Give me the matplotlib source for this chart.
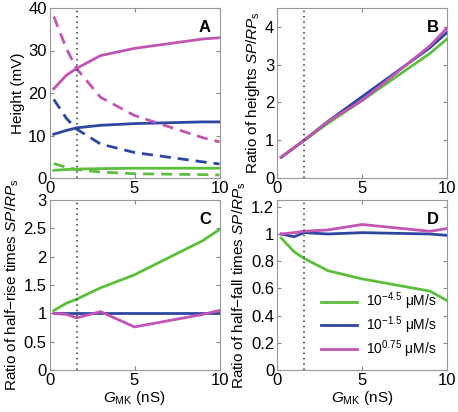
import matplotlib
matplotlib.use("Agg")
import matplotlib.pyplot as plt

# ── data ────────────────────────────────────────────────────────────────────
g_mk = [0.25, 1, 1.6, 3, 5, 9, 10]

# A: heights (mV), solid = SP, dashed = RP
a_green_sp = [1.8, 2.0, 2.1, 2.2, 2.3, 2.3, 2.3]
a_green_rp = [3.4, 2.5, 2.0, 1.4, 1.0, 0.8, 0.7]
a_blue_sp = [10.3, 11.2, 11.8, 12.4, 12.8, 13.2, 13.2]
a_blue_rp = [18.5, 14.0, 11.5, 8.0, 6.0, 3.8, 3.3]
a_mag_sp = [21.0, 24.2, 25.8, 28.8, 30.5, 32.7, 33.0]
a_mag_rp = [38.0, 30.4, 25.7, 19.0, 14.7, 9.5, 8.5]

# B: ratio of heights
b_green = [0.55, 0.8, 1.0, 1.45, 2.05, 3.3, 3.68]
b_blue = [0.55, 0.8, 1.0, 1.5, 2.15, 3.45, 3.85]
b_mag = [0.55, 0.8, 1.0, 1.5, 2.05, 3.5, 3.97]

# C: ratio of half-rise times
c_green = [1.05, 1.18, 1.25, 1.45, 1.68, 2.28, 2.48]
c_blue = [1.0, 1.0, 1.0, 1.0, 1.0, 1.0, 1.0]
c_mag = [1.0, 0.98, 0.92, 1.03, 0.76, 0.98, 1.05]

# D: ratio of half-fall times
d_green = [0.97, 0.87, 0.82, 0.73, 0.67, 0.58, 0.51]
d_blue = [1.0, 0.98, 1.01, 1.0, 1.01, 1.0, 0.99]
d_mag = [1.0, 1.01, 1.02, 1.03, 1.07, 1.02, 1.04]

legend_labels = [r"$10^{-4.5}$ μM/s", r"$10^{-1.5}$ μM/s", r"$10^{0.75}$ μM/s"]

GREEN = "#5cbf3c"
BLUE = "#2d47a0"
MAG = "#c254b3"
LW = 2.0

plt.rcParams["font.family"] = "Liberation Sans"
plt.rcParams["mathtext.fontset"] = "custom"
plt.rcParams["mathtext.rm"] = "Liberation Sans"
plt.rcParams["mathtext.it"] = "Liberation Sans:italic"

fig = plt.figure(figsize=(4.58, 4.12), dpi=100)
w, h = 170 / 458, 170 / 412
axA = fig.add_axes([49.5 / 458, (412 - 178) / 412, w, h])
axB = fig.add_axes([277 / 458, (412 - 178) / 412, w, h])
axC = fig.add_axes([49.5 / 458, (412 - 370) / 412, w, h])
axD = fig.add_axes([277 / 458, (412 - 370) / 412, w, h])


def style(ax, ylim, yticks, letter):
    ax.set_xlim(0, 10)
    ax.set_ylim(*ylim)
    ax.set_xticks([0, 5, 10])
    ax.set_yticks(yticks)
    ax.tick_params(direction="in", top=True, right=True, labelsize=12,
                   length=3, color="#888888", pad=2)
    for s in ax.spines.values():
        s.set_color("#999999")
        s.set_linewidth(0.8)
    ax.axvline(1.6, color="#333333", ls=(0, (1, 2.5)), lw=1.1)
    ax.text(0.95, 0.93, letter, transform=ax.transAxes, ha="right", va="top",
            fontsize=12, fontweight="bold")


axA.plot(g_mk, a_green_sp, color=GREEN, lw=LW)
axA.plot(g_mk, a_green_rp, color=GREEN, lw=LW, ls=(0, (4, 2.5)))
axA.plot(g_mk, a_blue_sp, color=BLUE, lw=LW)
axA.plot(g_mk, a_blue_rp, color=BLUE, lw=LW, ls=(0, (4, 2.5)))
axA.plot(g_mk, a_mag_sp, color=MAG, lw=LW)
axA.plot(g_mk, a_mag_rp, color=MAG, lw=LW, ls=(0, (4, 2.5)))
style(axA, (0, 40), [0, 10, 20, 30, 40], "A")
axA.set_ylabel("Height (mV)", fontsize=11, labelpad=2)

axB.plot(g_mk, b_green, color=GREEN, lw=LW)
axB.plot(g_mk, b_blue, color=BLUE, lw=LW)
axB.plot(g_mk, b_mag, color=MAG, lw=LW)
style(axB, (0, 4.5), [0, 1, 2, 3, 4], "B")
axB.set_ylabel(r"Ratio of heights $\it{SP/RP}_{\rm s}$", fontsize=11, labelpad=2)

axC.plot(g_mk, c_green, color=GREEN, lw=LW)
axC.plot(g_mk, c_blue, color=BLUE, lw=LW)
axC.plot(g_mk, c_mag, color=MAG, lw=LW)
style(axC, (0, 3), [0, 0.5, 1, 1.5, 2, 2.5, 3], "C")
axC.set_yticklabels(["0", "0.5", "1", "1.5", "2", "2.5", "3"])
axC.set_ylabel(r"Ratio of half$-$rise times $\it{SP/RP}_{\rm s}$", fontsize=11, labelpad=2)
axC.set_xlabel(r"$\it{G}_{\rm MK}$ (nS)", fontsize=11, labelpad=1)

axD.plot(g_mk, d_green, color=GREEN, lw=LW, label=legend_labels[0])
axD.plot(g_mk, d_blue, color=BLUE, lw=LW, label=legend_labels[1])
axD.plot(g_mk, d_mag, color=MAG, lw=LW, label=legend_labels[2])
style(axD, (0, 1.25), [0, 0.2, 0.4, 0.6, 0.8, 1, 1.2], "D")
axD.set_yticklabels(["0", "0.2", "0.4", "0.6", "0.8", "1", "1.2"])
axD.set_ylabel(r"Ratio of half$-$fall times $\it{SP/RP}_{\rm s}$", fontsize=11, labelpad=2)
axD.set_xlabel(r"$\it{G}_{\rm MK}$ (nS)", fontsize=11, labelpad=1)
axD.legend(loc="lower left", bbox_to_anchor=(0.26, 0.06), frameon=False,
           borderaxespad=0, borderpad=0, fontsize=10, handlelength=2.6,
           handletextpad=0.6, labelspacing=0.15)

fig.savefig("out.png", dpi=100)
